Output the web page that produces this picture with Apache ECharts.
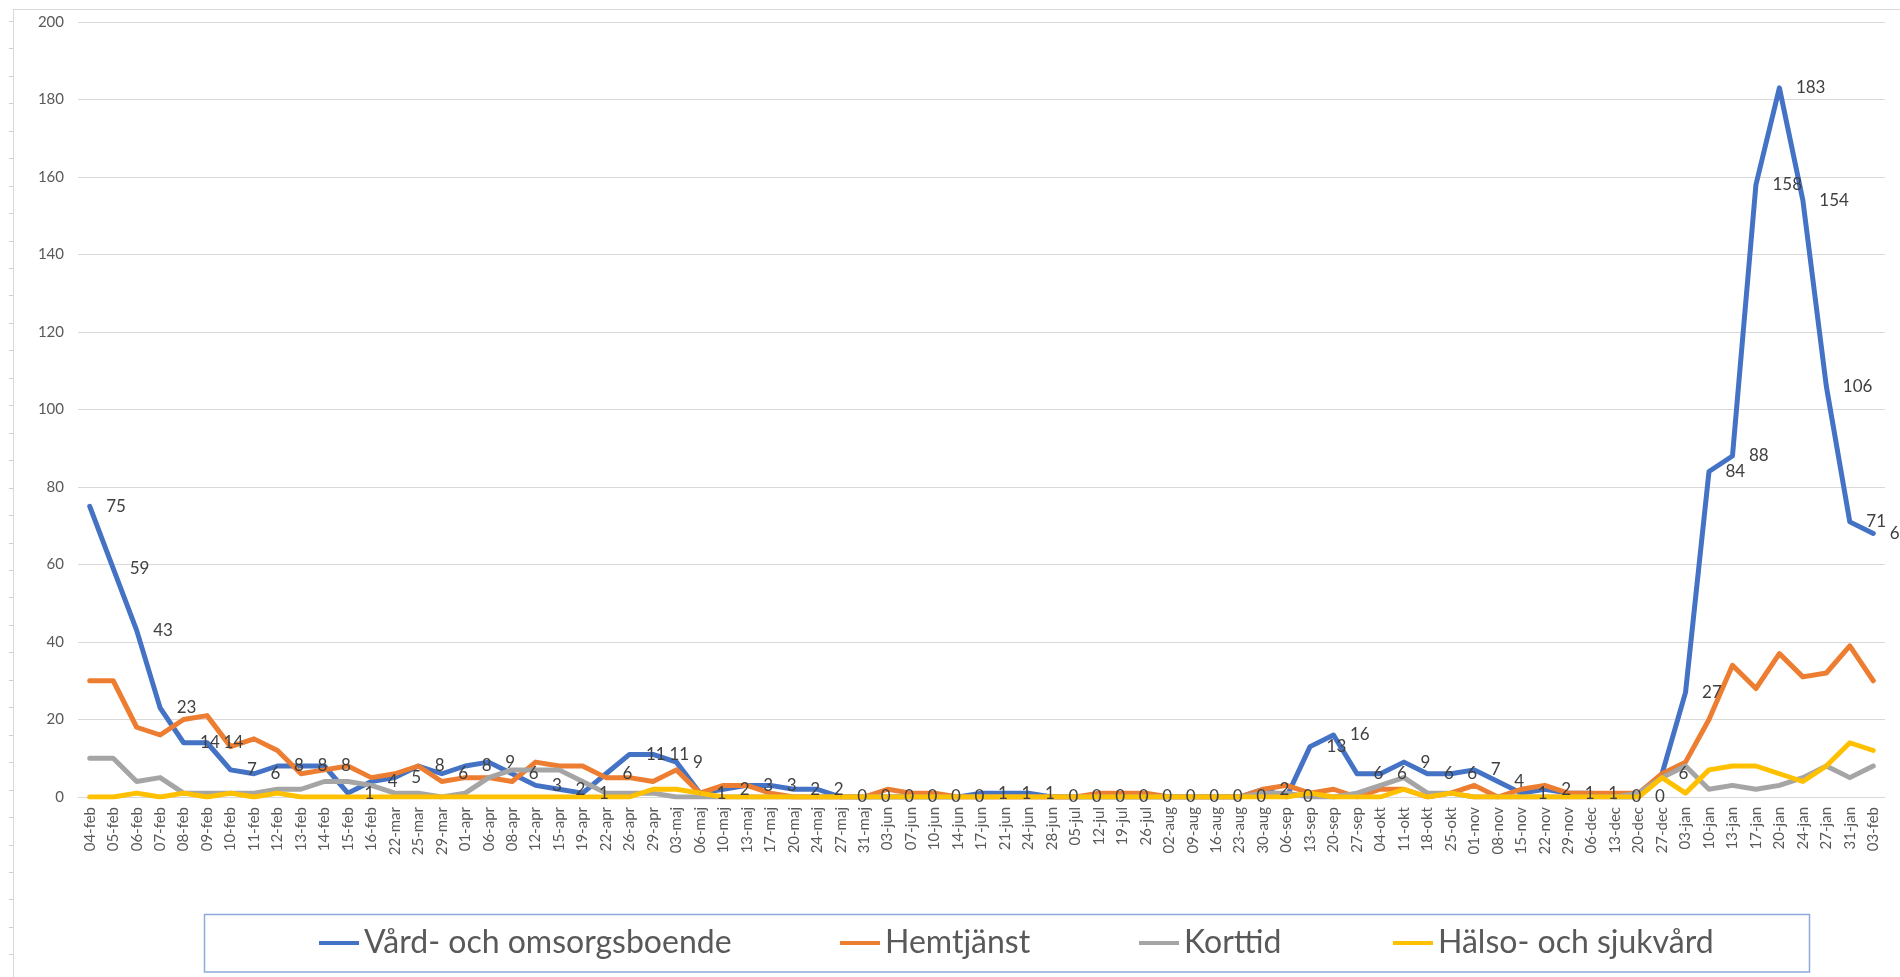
<!DOCTYPE html>
<html>
<head>
<meta charset="utf-8">
<script src="https://cdn.jsdelivr.net/npm/echarts@6/dist/echarts.min.js"></script>
<style>
  html, body { margin: 0; padding: 0; background: #fff; }
  #chart { width: 1900px; height: 977px; }
</style>
</head>
<body>
<div id="chart"></div>
<script>
const categories = [
  '04-feb', '05-feb', '06-feb', '07-feb', '08-feb', '09-feb', '10-feb', '11-feb', '12-feb', '13-feb', '14-feb', '15-feb', '16-feb',
  '22-mar', '25-mar', '29-mar',
  '01-apr', '06-apr', '08-apr', '12-apr', '15-apr', '19-apr', '22-apr', '26-apr', '29-apr',
  '03-maj', '06-maj', '10-maj', '13-maj', '17-maj', '20-maj', '24-maj', '27-maj', '31-maj',
  '03-jun', '07-jun', '10-jun', '14-jun', '17-jun', '21-jun', '24-jun', '28-jun',
  '05-jul', '12-jul', '19-jul', '26-jul',
  '02-aug', '09-aug', '16-aug', '23-aug', '30-aug',
  '06-sep', '13-sep', '20-sep', '27-sep',
  '04-okt', '11-okt', '18-okt', '25-okt',
  '01-nov', '08-nov', '15-nov', '22-nov', '29-nov',
  '06-dec', '13-dec', '20-dec', '27-dec',
  '03-jan', '10-jan', '13-jan', '17-jan', '20-jan', '24-jan', '27-jan', '31-jan',
  '03-feb'
]

// Vård- och omsorgsboende (values shown as labels)
const vardOmsorg = [
  75, 59, 43, 23, 14, 14, 7, 6, 8, 8, 8, 1, 4,
  5, 8, 6,
  8, 9, 6, 3, 2, 1, 6, 11, 11,
  9, 1, 2, 3, 3, 2, 2, 0, 0,
  0, 0, 0, 0, 1, 1, 1, 0,
  0, 0, 0, 0,
  0, 0, 0, 0, 2,
  0, 13, 16, 6,
  6, 9, 6, 6,
  7, 4, 1, 2, 1,
  1, 0, 0, 6,
  27, 84, 88, 158, 183, 154, 106, 71,
  68
]

const hemtjanst = [
  30, 30, 18, 16, 20, 21, 13, 15, 12, 6, 7, 8, 5,
  6, 8, 4,
  5, 5, 4, 9, 8, 8, 5, 5, 4,
  7, 1, 3, 3, 1, 0, 0, 0, 0,
  2, 1, 1, 0, 0, 0, 0, 0,
  0, 1, 1, 1,
  0, 0, 0, 0, 2,
  3, 1, 2, 0,
  2, 2, 0, 1,
  3, 0, 2, 3, 1,
  1, 1, 1, 6,
  9, 20, 34, 28, 37, 31, 32, 39,
  30
]

const korttid = [
  10, 10, 4, 5, 1, 1, 1, 1, 2, 2, 4, 4, 3,
  1, 1, 0,
  1, 5, 7, 7, 7, 4, 1, 1, 1,
  0, 0, 0, 0, 0, 0, 0, 0, 0,
  0, 0, 0, 0, 0, 0, 0, 0,
  0, 0, 0, 0,
  0, 0, 0, 0, 1,
  1, 0, 0, 1,
  3, 5, 1, 1,
  0, 0, 0, 0, 0,
  0, 0, 1, 5,
  8, 2, 3, 2, 3, 5, 8, 5,
  8
]

const halsoSjukvard = [
  0, 0, 1, 0, 1, 0, 1, 0, 1, 0, 0, 0, 0,
  0, 0, 0,
  0, 0, 0, 0, 0, 0, 0, 0, 2,
  2, 1, 0, 0, 0, 0, 0, 0, 0,
  0, 0, 0, 0, 0, 0, 0, 0,
  0, 0, 0, 0,
  0, 0, 0, 0, 0,
  0, 1, 0, 0,
  0, 2, 0, 1,
  0, 0, 0, 0, 0,
  0, 0, 0, 5,
  1, 7, 8, 8, 6, 4, 8, 14,
  12
]

const seriesNames = ['Vård- och omsorgsboende', 'Hemtjänst', 'Korttid', 'Hälso- och sjukvård']
const seriesColors = ['#4472C4', '#ED7D31', '#A5A5A5', '#FFC000']
const yMin = 0
const yMax = 200
const yStep = 20

const FONT = 'Lato, "Open Sans", sans-serif'
// left edge of each legend entry
const legendLefts = [314, 835, 1134, 1388]

const chart = echarts.init(document.getElementById('chart'), null, { renderer: 'canvas' })

function lineSeries(name, data, color, withLabels) {
  return {
    name: name,
    type: 'line',
    data: data,
    symbol: 'circle',
    symbolSize: 1,
    showSymbol: true,
    showAllSymbol: true,
    itemStyle: { color: color },
    lineStyle: { color: color, width: 5, cap: 'round', join: 'round' },
    label: withLabels ? {
      show: true,
      position: 'right',
      distance: 16,
      color: '#404040',
      fontSize: 17,
      fontFamily: FONT
    } : { show: false },
    emphasis: { disabled: true }
  }
}

// ruler ticks of the frame on the left side
const rulerTicks = []
for (let y = 21; y < 977; y += 27.45) {
  rulerTicks.push({
    type: 'line',
    shape: { x1: 9, y1: Math.round(y) + 0.5, x2: 13, y2: Math.round(y) + 0.5 },
    style: { stroke: '#D0D0D0', lineWidth: 1 },
    silent: true
  })
}

const option = {
  animation: false,
  backgroundColor: '#fff',
  textStyle: { fontFamily: FONT },
  grid: { left: 78, right: 15, top: 22, bottom: 180, containLabel: false },
  xAxis: {
    type: 'category',
    data: categories,
    boundaryGap: true,
    axisLine: { show: true, lineStyle: { color: '#D9D9D9', width: 1 } },
    axisTick: { show: false },
    axisLabel: {
      interval: 0,
      rotate: 90,
      margin: 10,
      color: '#595959',
      fontSize: 15,
      fontFamily: FONT
    }
  },
  yAxis: {
    type: 'value',
    min: yMin,
    max: yMax,
    interval: yStep,
    axisLine: { show: false },
    axisTick: { show: false },
    splitLine: { lineStyle: { color: '#D9D9D9', width: 1 } },
    axisLabel: { color: '#595959', fontSize: 15, margin: 14, fontFamily: FONT }
  },
  legend: seriesNames.map((name, i) => ({
    data: [name],
    left: legendLefts[i],
    top: 922,
    itemWidth: 40,
    itemHeight: 4,
    icon: 'rect',
    selectedMode: false,
    textStyle: { color: '#595959', fontSize: 32, fontFamily: FONT }
  })),
  graphic: [
    // outer frame (top and left edge)
    {
      type: 'line',
      shape: { x1: 13, y1: 9.5, x2: 1900, y2: 9.5 },
      style: { stroke: '#D9D9D9', lineWidth: 1 },
      silent: true
    },
    {
      type: 'line',
      shape: { x1: 13.5, y1: 9.5, x2: 13.5, y2: 977 },
      style: { stroke: '#D9D9D9', lineWidth: 1 },
      silent: true
    },
    // legend box
    {
      type: 'rect',
      shape: { x: 204.5, y: 914.5, width: 1605, height: 57.5 },
      style: { fill: 'none', stroke: '#8FAADC', lineWidth: 1.5 },
      silent: true,
      z: -1
    }
  ].concat(rulerTicks),
  series: [
    lineSeries(seriesNames[0], vardOmsorg, seriesColors[0], true),
    lineSeries(seriesNames[1], hemtjanst, seriesColors[1], false),
    lineSeries(seriesNames[2], korttid, seriesColors[2], false),
    lineSeries(seriesNames[3], halsoSjukvard, seriesColors[3], false)
  ]
}

chart.setOption(option)
</script>
</body>
</html>
